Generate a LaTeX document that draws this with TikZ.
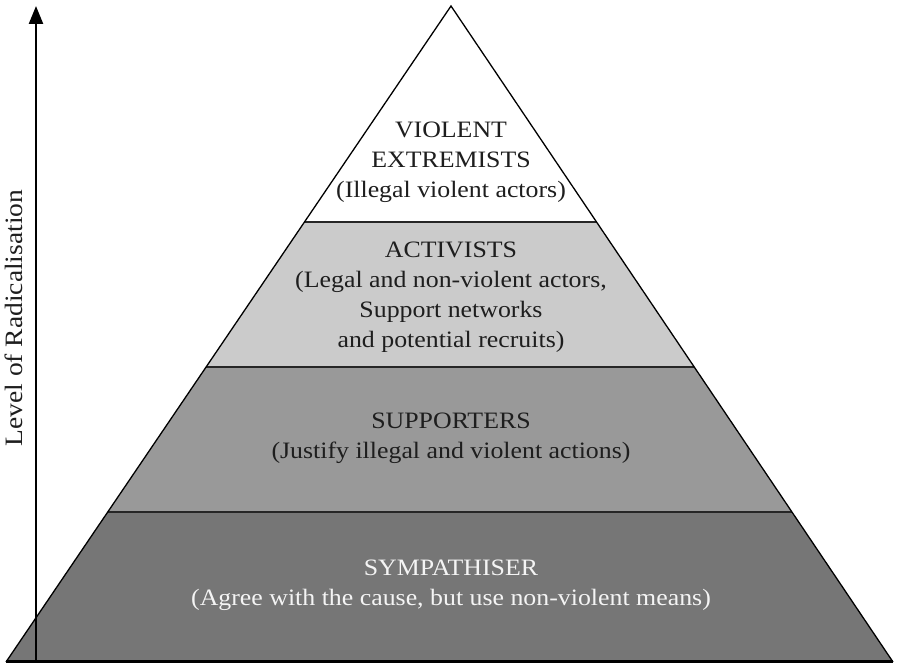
\documentclass[tikz,border=0pt]{standalone}
\usepackage{fontspec}
\setmainfont{Liberation Serif}[FakeStretch=1.1]
\usetikzlibrary{arrows.meta,calc}
\definecolor{bandA}{HTML}{FFFFFF}
\definecolor{bandB}{HTML}{CBCBCB}
\definecolor{bandC}{HTML}{999999}
\definecolor{bandD}{HTML}{767676}
\definecolor{inkdark}{HTML}{1E1E1E}
\definecolor{inklight}{HTML}{F4F4F4}
\tikzset{
  layertext/.style={align=center, font=\fontsize{23.5}{30}\selectfont, text=inkdark, inner sep=0pt},
  edge/.style={draw=black, line width=1.3pt, line join=miter},
  divider/.style={draw=black!85, line width=1.2pt},
}
\begin{document}
\begin{tikzpicture}[x=1pt,y=1pt]
\useasboundingbox (0,0) rectangle (897,664);
\coordinate (A) at (451,658);
\coordinate (BL) at (6,2);
\coordinate (BR) at (893,2);
\coordinate (L1) at ($(BL)!0.6707!(A)$);
\coordinate (R1) at ($(BR)!0.6707!(A)$);
\coordinate (L2) at ($(BL)!0.4497!(A)$);
\coordinate (R2) at ($(BR)!0.4497!(A)$);
\coordinate (L3) at ($(BL)!0.2287!(A)$);
\coordinate (R3) at ($(BR)!0.2287!(A)$);
% bands
\fill[bandA] (A) -- (L1) -- (R1) -- cycle;
\fill[bandB] (L1) -- (L2) -- (R2) -- (R1) -- cycle;
\fill[bandC] (L2) -- (L3) -- (R3) -- (R2) -- cycle;
\fill[bandD] (L3) -- (BL) -- (BR) -- (R3) -- cycle;
% dividers
\draw[divider] (L1) -- (R1);
\draw[divider] (L2) -- (R2);
\draw[divider] (L3) -- (R3);
% outline
\draw[edge] (BL) -- (A) -- (BR);
% axis arrow
\coordinate (ax0) at (36,2);
\coordinate (ax1) at (36,658);
\draw[line width=2.4pt, -{Triangle[width=14pt,length=18pt]}] (ax0) -- (ax1);
% base line
\draw[line width=3pt] (BL) -- (BR);
% texts
\node[layertext] (t1) at (451,502) {VIOLENT\\EXTREMISTS\\(Illegal violent actors)};
\node[layertext] (t2) at (451,367) {ACTIVISTS\\(Legal and non-violent actors,\\Support networks\\and potential recruits)};
\node[layertext] (t3) at (451,226) {SUPPORTERS\\(Justify illegal and violent actions)};
\node[layertext, text=inklight] (t4) at (451,79) {SYMPATHISER\\(Agree with the cause, but use non-violent means)};
\node[font=\fontsize{25}{30}\selectfont, rotate=90, text=inkdark, inner sep=0pt] (lab) at (14,346) {Level of Radicalisation};
\end{tikzpicture}
\end{document}
